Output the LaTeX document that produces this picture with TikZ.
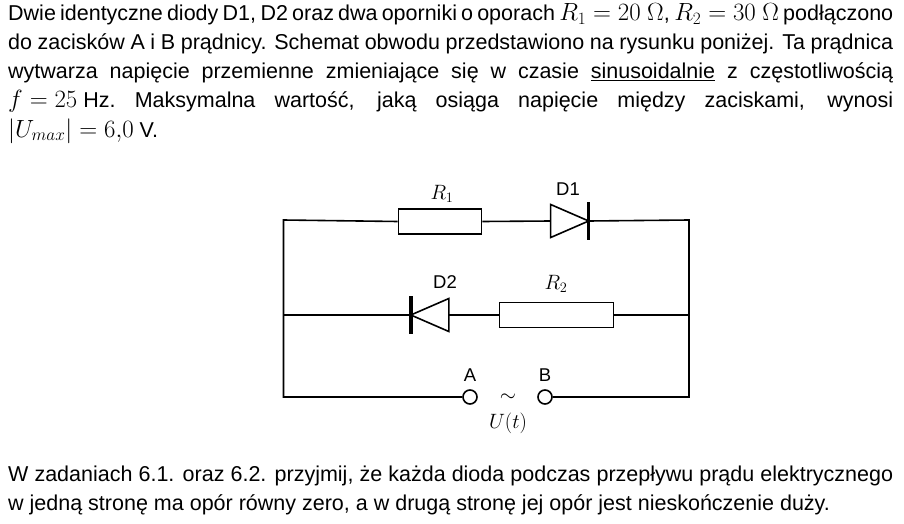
\documentclass[tikz,border=0pt]{standalone}
\usepackage{fontspec}
\setmainfont{Liberation Sans}
\usetikzlibrary{shapes.geometric}
\newcommand{\mth}[1]{\hbox{\fontsize{23.5}{29}\selectfont$#1$}}
\begin{document}
\begin{tikzpicture}[x=1pt,y=-1pt,font=\fontsize{18.5}{22}\selectfont]
    \tikzstyle{wire}=[line width=1.6pt]
    \tikzstyle{res}=[rectangle, draw, line width=1.6pt, minimum width=83pt, minimum height=25pt, inner sep=0pt]
    \tikzstyle{diode}=[isosceles triangle, isosceles triangle stretches, draw, line width=1.6pt, minimum width=33pt, minimum height=38pt, inner sep=0pt, outer sep=0pt]
    \tikzstyle{bar}=[line width=3.5pt]
    \tikzstyle{term}=[circle, draw, line width=1.6pt, minimum size=14pt, inner sep=0pt]
    \tikzstyle{row}=[anchor=base west, inner sep=0pt, font=\fontsize{21.5}{29}\selectfont]
    \tikzstyle{mlbl}=[font=\fontsize{21}{22}\selectfont]

    \useasboundingbox (0,0) rectangle (904,524);

    % text above
    \node[row] (t1) at (8,21) {\makebox[885pt][s]{Dwie identyczne diody D1, D2 oraz dwa oporniki o oporach \mth{R_1 = 20\ \Omega}, \mth{R_2 = 30\ \Omega} podłączono}};
    \node[row] (t2) at (8,50) {\makebox[885pt][s]{do zacisków A i B prądnicy. Schemat obwodu przedstawiono na rysunku poniżej. Ta prądnica}};
    \node[row] (t3) at (8,79) {\makebox[885pt][s]{wytwarza napięcie przemienne zmieniające się w czasie \underline{sinusoidalnie} z częstotliwością}};
    \node[row] (t4) at (8,108) {\makebox[885pt][s]{\hbox{\mth{f = 25} Hz.} Maksymalna wartość, jaką osiąga napięcie między zaciskami, wynosi}};
    \node[row] (t5) at (8,137) {\mth{|U_{max}| = 6{,}0} V.};

    % circuit
    \coordinate (tl) at (283.5,220);
    \coordinate (tr) at (689,220);
    \coordinate (ml) at (283.5,315);
    \coordinate (mr) at (689,315);
    \coordinate (bl) at (283.5,397);
    \coordinate (br) at (689,397);

    \node[res] (R1) at (440,221.5) {};
    \node[diode] (D1) at (561.5,221) {};
    \node[diode, shape border rotate=180] (D2) at (438,315) {};
    \node[res, minimum width=114pt] (R2) at (556.5,315) {};
    \node[term] (A) at (470,397) {};
    \node[term] (B) at (545,397) {};

    \draw[bar] ([yshift=19pt]D1.apex) -- ([yshift=-19pt]D1.apex);
    \draw[bar] ([yshift=19pt]D2.apex) -- ([yshift=-19pt]D2.apex);

    \draw[wire] (R1.west) -- (tl) -- (bl) -- (A.west);
    \draw[wire] (R1.east) -- (D1.west);
    \draw[wire] (D1.apex) -- (tr) -- (br) -- (B.east);
    \draw[wire] (ml) -- (D2.apex);
    \draw[wire] (D2.east) -- (R2.west);
    \draw[wire] (R2.east) -- (mr);

    \node[mlbl] (lR1) at (442,194) {$R_1$};
    \node (lD1) at (568,189) {D1};
    \node (lD2) at (445,282) {D2};
    \node[mlbl] (lR2) at (556,284) {$R_2$};
    \node (lA) at (470,375) {A};
    \node (lB) at (545,375) {B};
    \node[mlbl] (sim) at (508,398) {$\sim$};
    \node[mlbl] (lU) at (508,423) {$U(t)$};

    % text below
    \node[row] (b1) at (8,481) {\makebox[885pt][s]{W zadaniach 6.1. oraz 6.2. przyjmij, że każda dioda podczas przepływu prądu elektrycznego}};
    \node[row] (b2) at (8,510) {w jedną stronę ma opór równy zero, a w drugą stronę jej opór jest nieskończenie duży.};
\end{tikzpicture}
\end{document}
